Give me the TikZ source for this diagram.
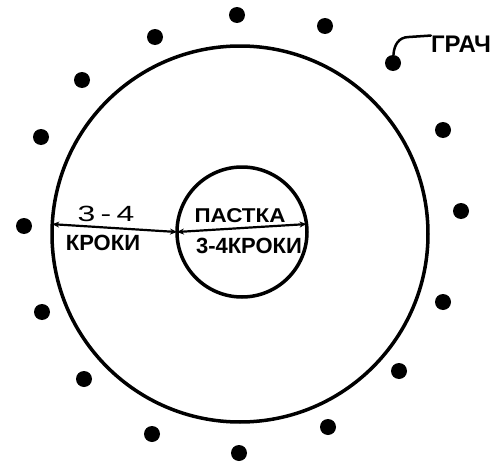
\documentclass[tikz,border=0pt]{standalone}
\usepackage{fontspec}
\setmainfont{Liberation Sans}
\usetikzlibrary{arrows.meta}

\tikzset{
  ring/.style={draw, circle, line width=3.5pt, inner sep=0pt, outer sep=0pt},
  seed/.style={circle, fill, inner sep=0pt, minimum size=16pt},
  measure/.style={<->, line width=2.2pt, >={Stealth[length=7pt,width=6pt]}},
  leader/.style={line width=2.5pt, line cap=round},
  hand/.style={inner sep=0pt, font=\bfseries\fontsize{#1}{#1}\selectfont}
}

\begin{document}
\begin{tikzpicture}[x=1pt,y=-1pt]
  \useasboundingbox (0,0) rectangle (496,463);

  % --- the two rings ---
  \node[ring, minimum size=376pt] (outer) at (240,234) {};
  \node[ring, minimum size=130pt] (inner) at (242,232) {};

  % --- birds round the field ---
  \foreach \x/\y [count=\i] in {237/15, 325/26, 155/37, 393/63, 82/80, 443/130,
      41/137, 461/211, 24/226, 443/302, 42/312, 399/371, 84/379, 328/427,
      152/434, 239/453}
    \node[seed] (d\i) at (\x,\y) {};

  % --- distances ---
  \draw[measure] (outer.177) -- (inner.180);
  \draw[measure] (inner.180) -- (inner.7);

  \node[hand=22] (steps1) at (106,214) {\mdseries\scalebox{1.45}[1]{3\,-\,4}};
  \node[hand=22] (steps2) at (103,243) {КРОКИ};
  \node[hand=20] (trap) at (240,216) {\scalebox{1.12}[1]{ПАСТКА}};
  \node[hand=22] (steps3) at (249,246) {3-4КРОКИ};

  % label for one bird
  \node[hand=24] (grach) at (461,44) {ГРАЧ};
  \coordinate (bend) at (409,37);
  \draw[leader] (d4) .. controls (394,46) and (398,37) .. (bend) -- (grach.north west);
\end{tikzpicture}
\end{document}
